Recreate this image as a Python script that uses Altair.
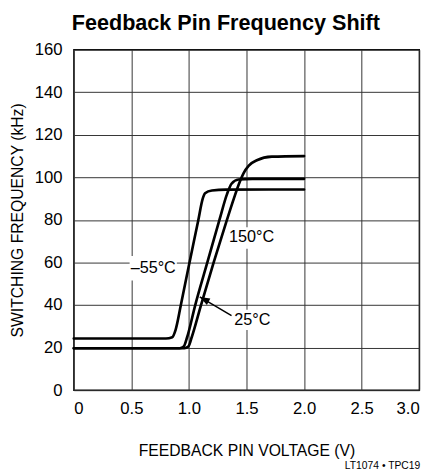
import altair as alt
import pandas as pd

# ---- data ----
v_m55 = [0.0, 0.80, 0.855, 0.885, 0.93, 0.99, 1.08, 1.12, 1.14, 1.20, 1.32, 2.0]
f_m55 = [24.3, 24.3, 24.9, 28.5, 40.0, 56.0, 79.5, 90.0, 92.5, 93.8, 94.2, 94.3]

v_25 = [0.0, 0.92, 0.955, 0.985, 1.055, 1.16, 1.265, 1.33, 1.37, 1.43, 1.55, 2.0]
f_25 = [19.7, 19.7, 20.5, 25.0, 40.0, 60.0, 80.0, 92.0, 97.0, 99.0, 99.3, 99.3]

v_150 = [0.0, 0.96, 0.995, 1.025, 1.105, 1.215, 1.33, 1.39, 1.435, 1.475, 1.52, 1.59, 1.72, 2.0]
f_150 = [19.7, 19.7, 20.5, 25.0, 40.0, 60.0, 80.0, 90.0, 97.0, 102.0, 105.5, 108.0, 109.7, 110.0]

x_ticks = [0, 0.5, 1.0, 1.5, 2.0, 2.5, 3.0]
y_ticks = [0, 20, 40, 60, 80, 100, 120, 140, 160]

label_text = ["\u201355\u00b0C", "150\u00b0C", "25\u00b0C"]
label_v = [0.69, 1.545, 1.55]
label_f = [57.4, 71.9, 33.1]
# white boxes behind labels
box_v1 = [0.485, 1.345, 1.36]
box_v2 = [0.895, 1.765, 1.745]
box_f1 = [51.5, 66.5, 28.3]
box_f2 = [63.0, 76.5, 37.8]

arrow_tail = (1.37, 35.0)
arrow_tip = (1.094, 43.8)

TITLE = "Feedback Pin Frequency Shift"
FOOTNOTE = "LT1074 \u2022 TPC19"

FONT = "Liberation Sans, Arial, Helvetica, sans-serif"

rows = []
for name, vs, fs in [("-55", v_m55, f_m55), ("25", v_25, f_25), ("150", v_150, f_150)]:
    for v, f in zip(vs, fs):
        rows.append({"series": name, "v": v, "f": f})
curves = pd.DataFrame(rows)

labels = pd.DataFrame({"text": label_text, "v": label_v, "f": label_f,
                       "v1": box_v1, "v2": box_v2, "f1": box_f1, "f2": box_f2})
arrow = pd.DataFrame({"v": [arrow_tail[0]], "f": [arrow_tail[1]],
                      "v2": [arrow_tip[0]], "f2": [arrow_tip[1]]})

xscale = alt.Scale(domain=[0, 3], nice=False, zero=False)
yscale = alt.Scale(domain=[0, 160], nice=False)

xaxis = alt.Axis(values=x_ticks, title="FEEDBACK PIN VOLTAGE (V)",
                 labelExpr="datum.value == 0 ? '0' : format(datum.value, '.1f')",
                 ticks=False, domain=False, grid=True,
                 labelPadding=11, titlePadding=27)
yaxis = alt.Axis(values=y_ticks, title="SWITCHING FREQUENCY (kHz)",
                 ticks=False, domain=False, grid=True,
                 labelPadding=12, titlePadding=9)

X = lambda f: alt.X(f, type="quantitative", scale=xscale, axis=xaxis)
Y = lambda f: alt.Y(f, type="quantitative", scale=yscale, axis=yaxis)

lines = alt.Chart(curves).mark_line(
    color="black", strokeWidth=2.7, interpolate="monotone", strokeCap="round"
).encode(x=X("v"), y=Y("f"), detail="series:N")

boxes = alt.Chart(labels).mark_rect(color="white").encode(
    x=X("v1"), x2="v2", y=Y("f1"), y2="f2")

texts = alt.Chart(labels).mark_text(
    font=FONT, fontSize=16.5, color="black", align="center", baseline="middle"
).encode(x=X("v"), y=Y("f"), text="text:N")

shaft = alt.Chart(arrow).mark_rule(color="black", strokeWidth=1.5).encode(
    x=X("v"), x2="v2", y=Y("f"), y2="f2")

head = alt.Chart(arrow).mark_point(
    shape="M0,0L0.36,1L-0.36,1Z", filled=True, color="black", opacity=1,
    size=420, angle=298, strokeWidth=0
).encode(x=X("v2"), y=Y("f2"))

title = alt.Chart(pd.DataFrame({"t": [TITLE]})).mark_text(
    font=FONT, fontSize=22, fontWeight="bold", color="black",
    align="left", baseline="alphabetic"
).encode(text="t:N", x=alt.value(-2), y=alt.value(-20))

foot = alt.Chart(pd.DataFrame({"t": [FOOTNOTE]})).mark_text(
    font=FONT, fontSize=10.5, color="black",
    align="right", baseline="middle"
).encode(text="t:N", x=alt.value(353), y=alt.value(424))

chart = alt.layer(boxes, lines, shaft, head, texts, title, foot).properties(
    width=352, height=347,
    autosize=alt.AutoSizeParams(type="none"),
    padding={"left": 67, "top": 38, "right": 13, "bottom": 82},
).configure_view(stroke="black", strokeWidth=1.4).configure_axis(
    gridColor="#333333", gridWidth=1, gridOpacity=1,
    labelFont=FONT, labelFontSize=17, labelColor="black",
    titleFont=FONT, titleFontSize=16, titleFontWeight="normal", titleColor="black",
)

chart.save("out.html", embed_options={"renderer": "svg", "actions": False})
